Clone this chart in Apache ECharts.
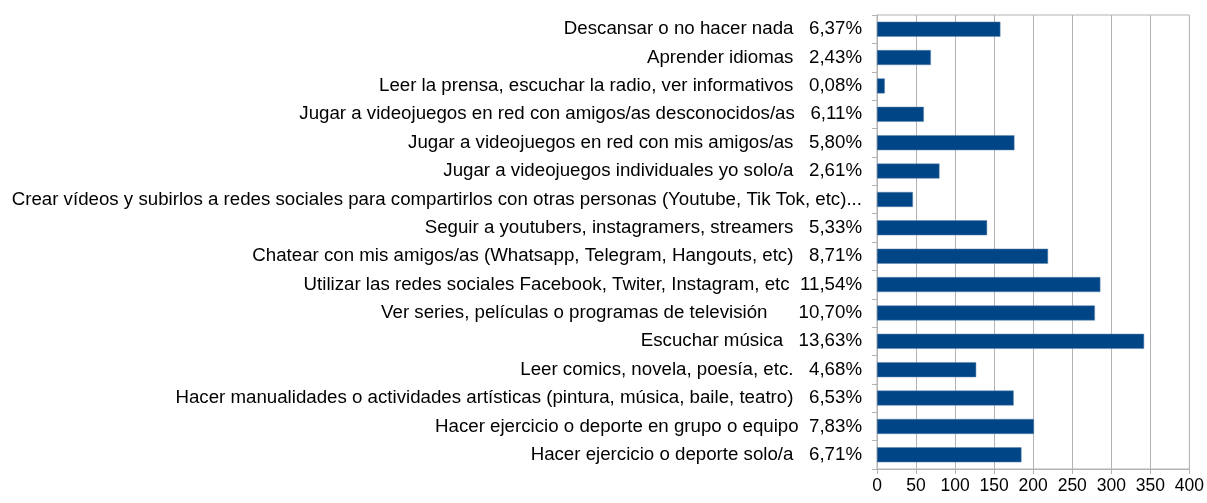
<!DOCTYPE html>
<html>
<head>
<meta charset="utf-8">
<script src="https://cdn.jsdelivr.net/npm/echarts@6/dist/echarts.min.js"></script>
<style>
html,body{margin:0;padding:0;background:#fff;}
#chart{width:1207px;height:503px;}
</style>
</head>
<body>
<div id="chart"></div>
<script>
var categories = [
	'Descansar o no hacer nada   6,37%',
	'Aprender idiomas   2,43%',
	'Leer la prensa, escuchar la radio, ver informativos   0,08%',
	'Jugar a videojuegos en red con amigos/as desconocidos/as   6,11%',
	'Jugar a videojuegos en red con mis amigos/as   5,80%',
	'Jugar a videojuegos individuales yo solo/a   2,61%',
	'Crear vídeos y subirlos a redes sociales para compartirlos con otras personas (Youtube, Tik Tok, etc)...',
	'Seguir a youtubers, instagramers, streamers   5,33%',
	'Chatear con mis amigos/as (Whatsapp, Telegram, Hangouts, etc)   8,71%',
	'Utilizar las redes sociales Facebook, Twiter, Instagram, etc  11,54%',
	'Ver series, películas o programas de televisión      10,70%',
	'Escuchar música   13,63%',
	'Leer comics, novela, poesía, etc.   4,68%',
	'Hacer manualidades o actividades artísticas (pintura, música, baile, teatro)   6,53%',
	'Hacer ejercicio o deporte en grupo o equipo  7,83%',
	'Hacer ejercicio o deporte solo/a   6,71%'
];
var values = [158, 69, 10, 60, 176, 80, 46, 141, 219, 286, 279, 342, 127, 175, 201, 185];

var myChart = echarts.init(document.getElementById('chart'));
var option = {
	animation: false,
	textStyle: {fontFamily: 'Liberation Sans'},
	grid: {left: 877, right: 15, top: 15, bottom: 34, show: true, borderColor: '#b3b3b3', borderWidth: 1},
	xAxis: {
		type: 'value',
		min: 0, max: 400, interval: 50,
		axisLine: {show: true, lineStyle: {color: '#b3b3b3'}},
		axisTick: {show: true, length: 5, lineStyle: {color: '#b3b3b3'}},
		axisLabel: {color: '#000', fontSize: 17.5, margin: 8, fontFamily: '"Liberation Sans Narrow", "Liberation Sans"'},
		splitLine: {show: true, lineStyle: {color: '#b3b3b3', width: 1}}
	},
	yAxis: {
		type: 'category',
		inverse: true,
		data: categories,
		axisLine: {show: true, lineStyle: {color: '#b3b3b3'}},
		axisTick: {show: true, length: 5, lineStyle: {color: '#b3b3b3'}},
		axisLabel: {color: '#000', fontSize: 18.7, margin: 15, interval: 0}
	},
	series: [{
		type: 'bar',
		data: values,
		barWidth: 15,
		itemStyle: {color: '#004586', borderColor: '#5f86b0', borderWidth: 0.5}
	}]
};
myChart.setOption(option);
</script>
</body>
</html>
